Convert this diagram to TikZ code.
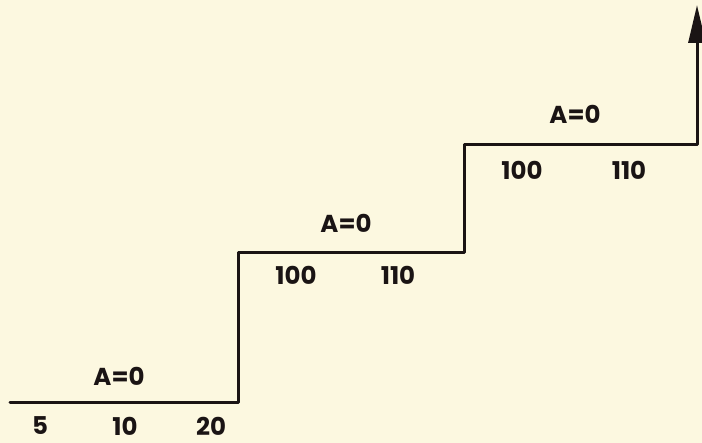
\documentclass[tikz,border=0pt]{standalone}
\usepackage{fontspec}
\setmainfont{Poppins}
\usetikzlibrary{arrows.meta}
\definecolor{paper}{HTML}{FCF8E0}
\definecolor{ink}{HTML}{1A1414}
\begin{document}
\begin{tikzpicture}[x=1pt,y=-1pt,
  lbl/.style={font=\fontsize{24.5}{26}\selectfont\bfseries, text=ink, inner sep=0pt, anchor=center},
  stair/.style={draw=ink, line width=3pt, line join=round, line cap=round}]
\fill[paper] (0,0) rectangle (702,443);
\useasboundingbox (0,0) rectangle (702,443);
\coordinate (s0) at (10,403);
\coordinate (c1) at (238,403);
\coordinate (c2) at (238,253);
\coordinate (c3) at (464,253);
\coordinate (c4) at (464,145);
\coordinate (c5) at (697,145);
\coordinate (tip) at (697,5);
\draw[stair, -{Triangle[length=38pt,width=17pt]}] (s0) -- (c1) -- (c2) -- (c3) -- (c4) -- (c5) -- (tip);
\node[lbl] (a1) at (119,376) {A=0};
\node[lbl] (n5) at (40,426) {5};
\node[lbl] (n10) at (125,426) {10};
\node[lbl] (n20) at (211,426) {20};
\node[lbl] (a2) at (346,223) {A=0};
\node[lbl] (n100a) at (296,275) {100};
\node[lbl] (n110a) at (398,275) {110};
\node[lbl] (a3) at (575,114) {A=0};
\node[lbl] (n100b) at (522,170) {100};
\node[lbl] (n110b) at (629,170) {110};
\end{tikzpicture}
\end{document}
